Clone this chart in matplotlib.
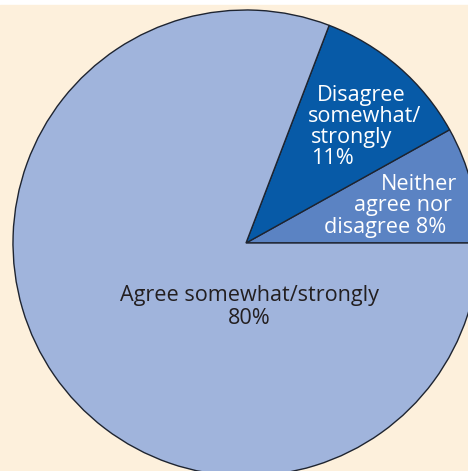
import matplotlib.pyplot as plt

labels = ['Neither agree nor disagree', 'Disagree somewhat/strongly', 'Agree somewhat/strongly']
shares = [8, 11, 80]
colors = ['#5b83c3', '#075aa7', '#a0b4dc']

W, H = 468, 471
fig = plt.figure(figsize=(W / 100, H / 100), dpi=100)
fig.patch.set_facecolor('white')
ax = fig.add_axes([0, 0, 1, 1])

# cream panel, white strip on top
ax.add_patch(plt.Rectangle((0, 0), W, H - 5, color='#fdf0dc', zorder=0))

cx, cy, r = 246, H - 243, 233
ax.pie(shares, colors=colors, startangle=0, counterclock=True,
       center=(cx, cy), radius=r, frame=True,
       wedgeprops=dict(edgecolor='#1e2430', linewidth=1.0))
ax.set_xlim(0, W)
ax.set_ylim(0, H)
ax.set_aspect('equal')
ax.axis('off')

font = 'Open Sans'
fs = 15.6


def put(x, y, s, ha='left', color='white'):
    ax.text(x, H - y, s, ha=ha, va='center', fontsize=fs, color=color,
            family=font)


put(249, 296, 'Agree somewhat/strongly', ha='center', color='#231f20')
put(249, 318, '80%', ha='center', color='#231f20')

put(317, 96, 'Disagree')
put(308, 117, 'somewhat/')
put(311, 138, 'strongly')
put(311, 159, '11%')

put(457, 184, 'Neither', ha='right')
put(452, 205, 'agree nor', ha='right')
put(446, 227, 'disagree 8%', ha='right')

fig.savefig('out.png', dpi=100)
